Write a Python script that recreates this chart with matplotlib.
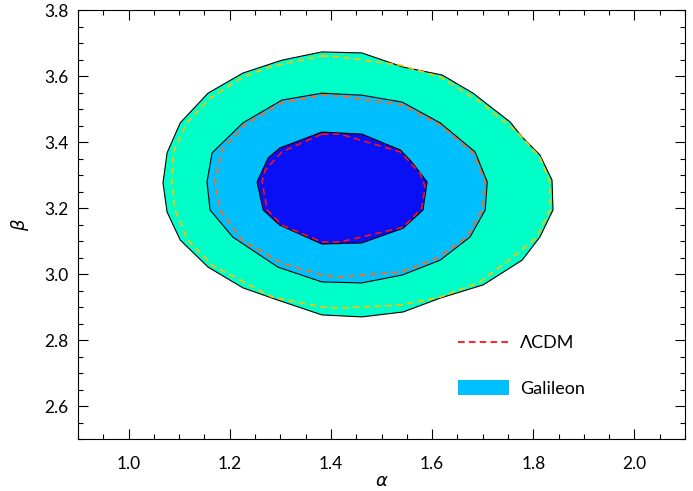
import matplotlib
matplotlib.use("Agg")
import matplotlib.pyplot as plt
from matplotlib.lines import Line2D
from matplotlib.patches import Patch
from matplotlib.ticker import MultipleLocator

# Galileon confidence contours (alpha, beta)
gal_outer_a = [1.382, 1.461, 1.543, 1.620, 1.681, 1.754, 1.778, 1.813, 1.837, 1.839, 1.813, 1.778, 1.701, 1.616,
               1.543, 1.461, 1.382, 1.295, 1.226, 1.157, 1.102, 1.076, 1.068, 1.076, 1.102, 1.157, 1.226, 1.303]
gal_outer_b = [3.673, 3.670, 3.627, 3.603, 3.548, 3.461, 3.415, 3.361, 3.285, 3.194, 3.112, 3.042, 2.967, 2.927,
               2.885, 2.870, 2.876, 2.921, 2.958, 3.021, 3.103, 3.188, 3.276, 3.367, 3.458, 3.548, 3.609, 3.648]

gal_mid_a = [1.382, 1.461, 1.541, 1.616, 1.685, 1.709, 1.705, 1.675, 1.616, 1.541, 1.461, 1.382, 1.295, 1.206,
             1.161, 1.155, 1.165, 1.226, 1.303]
gal_mid_b = [3.548, 3.542, 3.521, 3.458, 3.370, 3.279, 3.194, 3.112, 3.042, 2.997, 2.973, 2.976, 3.021, 3.112,
             3.194, 3.279, 3.367, 3.458, 3.527]

gal_in_a = [1.382, 1.461, 1.537, 1.560, 1.590, 1.582, 1.543, 1.461, 1.382, 1.299, 1.266, 1.254, 1.276, 1.299]
gal_in_b = [3.430, 3.424, 3.376, 3.339, 3.279, 3.194, 3.139, 3.094, 3.091, 3.148, 3.194, 3.279, 3.352, 3.382]

# LCDM contours
lcdm_outer_a = [1.382, 1.418, 1.537, 1.616, 1.695, 1.768, 1.813, 1.833, 1.833, 1.807, 1.760, 1.695, 1.616, 1.537,
                1.418, 1.382, 1.284, 1.165, 1.117, 1.092, 1.086, 1.088, 1.115, 1.161, 1.226, 1.284]
lcdm_outer_b = [3.661, 3.658, 3.633, 3.597, 3.521, 3.430, 3.355, 3.276, 3.194, 3.112, 3.052, 2.976, 2.930, 2.906,
                2.897, 2.900, 2.930, 3.027, 3.103, 3.194, 3.276, 3.367, 3.458, 3.533, 3.597, 3.630]

lcdm_mid_a = [1.382, 1.418, 1.541, 1.616, 1.681, 1.705, 1.699, 1.669, 1.610, 1.537, 1.418, 1.382, 1.303, 1.224,
              1.181, 1.171, 1.185, 1.230, 1.303]
lcdm_mid_b = [3.542, 3.539, 3.512, 3.452, 3.367, 3.279, 3.194, 3.112, 3.048, 3.006, 2.991, 2.997, 3.033, 3.103,
              3.194, 3.279, 3.376, 3.452, 3.518]

lcdm_in_a = [1.382, 1.418, 1.537, 1.576, 1.586, 1.580, 1.543, 1.418, 1.382, 1.303, 1.274, 1.264, 1.270, 1.303]
lcdm_in_b = [3.424, 3.424, 3.370, 3.306, 3.264, 3.200, 3.142, 3.097, 3.097, 3.148, 3.194, 3.279, 3.315, 3.370]

gal_colors = ["#00FFC8", "#00BFFF", "#0A10F5"]
lcdm_colors = ["#FFC000", "#FF6A10", "#FF1010"]

plt.rcParams["font.family"] = ["Lato", "DejaVu Sans"]

fig = plt.figure(figsize=(6.93, 4.91), dpi=100)
ax = fig.add_axes([0.1126, 0.1059, 0.8759, 0.8737])

gal = [(gal_outer_a, gal_outer_b), (gal_mid_a, gal_mid_b), (gal_in_a, gal_in_b)]
for (a, b), c in zip(gal, gal_colors):
    ax.fill(a, b, facecolor=c, edgecolor="black", linewidth=0.8)

lcdm = [(lcdm_outer_a, lcdm_outer_b), (lcdm_mid_a, lcdm_mid_b), (lcdm_in_a, lcdm_in_b)]
for (a, b), c in zip(lcdm, lcdm_colors):
    ax.plot(a + a[:1], b + b[:1], color=c, linewidth=1.2, linestyle=(0, (4, 2.5)))

ax.set_xlim(0.9, 2.1)
ax.set_ylim(2.5, 3.8)
ax.xaxis.set_major_locator(MultipleLocator(0.2))
ax.xaxis.set_minor_locator(MultipleLocator(0.05))
ax.yaxis.set_major_locator(MultipleLocator(0.2))
ax.yaxis.set_minor_locator(MultipleLocator(0.05))
ax.xaxis.set_major_formatter(plt.FormatStrFormatter("%.1f"))
ax.yaxis.set_major_formatter(plt.FormatStrFormatter("%.1f"))
ax.tick_params(which="both", direction="in", top=True, right=True, labelsize=12.5, width=0.8)
ax.tick_params(which="major", length=7)
ax.tick_params(which="minor", length=3.5)
ax.tick_params(axis="x", which="major", pad=12)
ax.tick_params(axis="y", which="major", pad=7)
for s in ax.spines.values():
    s.set_linewidth(0.8)

ax.set_xlabel(r"$\alpha$", fontsize=13, labelpad=1)
ax.set_ylabel(r"$\beta$", fontsize=13, labelpad=9)

handles = [Line2D([], [], color="red", linestyle=(0, (4, 2.5)), linewidth=1.2),
           Patch(facecolor="#00BFFF", edgecolor="none")]
ax.legend(handles, ["ΛCDM", "Galileon"], loc="lower left", bbox_to_anchor=(0.6, 0.06),
          frameon=False, fontsize=13, handlelength=2.8, handleheight=0.9, labelspacing=1.6,
          handletextpad=0.6)

fig.savefig("out.png", dpi=100)
